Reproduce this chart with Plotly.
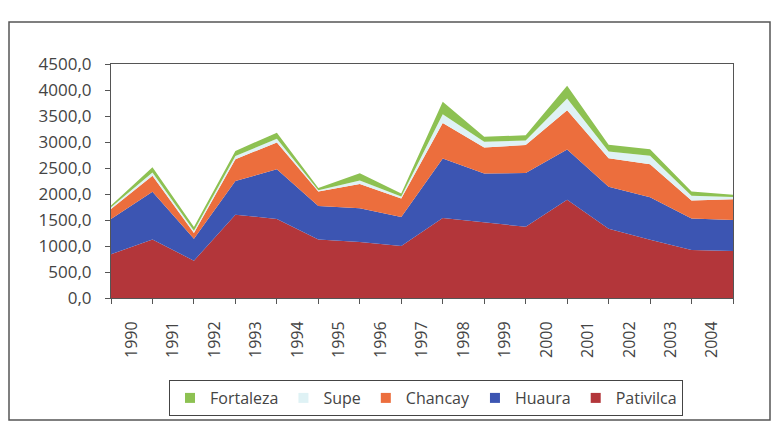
import plotly.graph_objects as go

years = ["1990", "1991", "1992", "1993", "1994", "1995", "1996", "1997",
         "1998", "1999", "2000", "2001", "2002", "2003", "2004"]
points = list(range(16))

pativilca = [840, 1124, 717, 1603, 1519, 1124, 1079, 1000, 1539, 1454, 1370, 1888, 1331, 1118, 924, 905]
huaura    = [679, 919, 421, 645, 956, 647, 646, 558, 1143, 938, 1033, 969, 809, 820, 607, 595]
chancay   = [194, 310, 110, 421, 517, 277, 465, 355, 684, 503, 537, 755, 548, 634, 343, 399]
supe      = [30, 60, 45, 60, 70, 25, 70, 40, 170, 110, 90, 225, 130, 165, 90, 45]
fortaleza = [36, 100, 70, 100, 116, 40, 137, 57, 240, 96, 98, 246, 128, 125, 84, 41]

yticks = [0, 500, 1000, 1500, 2000, 2500, 3000, 3500, 4000, 4500]
yticktext = ["0,0", "500,0", "1000,0", "1500,0", "2000,0", "2500,0",
             "3000,0", "3500,0", "4000,0", "4500,0"]

series = [
    ("Pativilca", pativilca, "#b3363a"),
    ("Huaura", huaura, "#3c55b2"),
    ("Chancay", chancay, "#ec6e3d"),
    ("Supe", supe, "#dff2f5"),
    ("Fortaleza", fortaleza, "#8dc152"),
]

fig = go.Figure()
for name, vals, col in series:
    fig.add_trace(go.Scatter(
        x=points, y=vals, name=name, mode="lines",
        stackgroup="one", line=dict(width=0, color=col),
        fillcolor=col, showlegend=False,
    ))
# legend entries with square swatches (Excel style)
for name, vals, col in series:
    fig.add_trace(go.Scatter(
        x=[None], y=[None], name=name, mode="markers",
        marker=dict(symbol="square", size=10, color=col),
        showlegend=True,
    ))

font_family = "Open Sans, DejaVu Sans, sans-serif"

# page body has an 8px margin, so the figure is laid out 8px smaller
W, H = 773, 422
L, R, T, B = 103, 48, 56, 132
PW, PH = W - L - R, H - T - B

fig.update_layout(
    width=W, height=H,
    margin=dict(l=L, r=R, t=T, b=B),
    paper_bgcolor="white", plot_bgcolor="white",
    font=dict(family=font_family, size=16, color="#444"),
    showlegend=True,
    legend=dict(
        orientation="h", x=(418 - L) / PW, xanchor="center",
        y=(H - B - 372) / PH, yanchor="top",
        bordercolor="#444", borderwidth=1, traceorder="reversed",
        font=dict(size=16, color="#444"),
        itemwidth=30,
    ),
    xaxis=dict(
        range=[0, 15],
        tickmode="array",
        tickvals=[i + 0.5 for i in range(len(years))],
        ticktext=years,
        tickangle=-90,
        ticks="",
        ticklabelstandoff=16,
        showgrid=False, zeroline=False,
        showline=True, linecolor="#555", linewidth=1, mirror=True,
        minor=dict(tickmode="array", tickvals=points, ticks="outside",
                   ticklen=5, tickcolor="#555", showgrid=False),
        tickfont=dict(size=16, color="#444"),
    ),
    yaxis=dict(
        range=[0, 4500],
        tickmode="array", tickvals=yticks, ticktext=yticktext,
        ticks="outside", ticklen=5, tickcolor="#555",
        ticklabelstandoff=10,
        showgrid=False, zeroline=False,
        showline=True, linecolor="#555", linewidth=1, mirror=True,
        tickfont=dict(size=17, color="#444"),
    ),
    shapes=[dict(
        type="rect", xref="paper", yref="paper",
        x0=(1 - L) / PW, x1=(762 - L) / PW,
        y0=(H - B - 412) / PH, y1=(H - B - 14) / PH,
        line=dict(color="#555", width=1.5), fillcolor="rgba(0,0,0,0)",
        layer="below",
    )],
)

fig.write_html("out.html")
